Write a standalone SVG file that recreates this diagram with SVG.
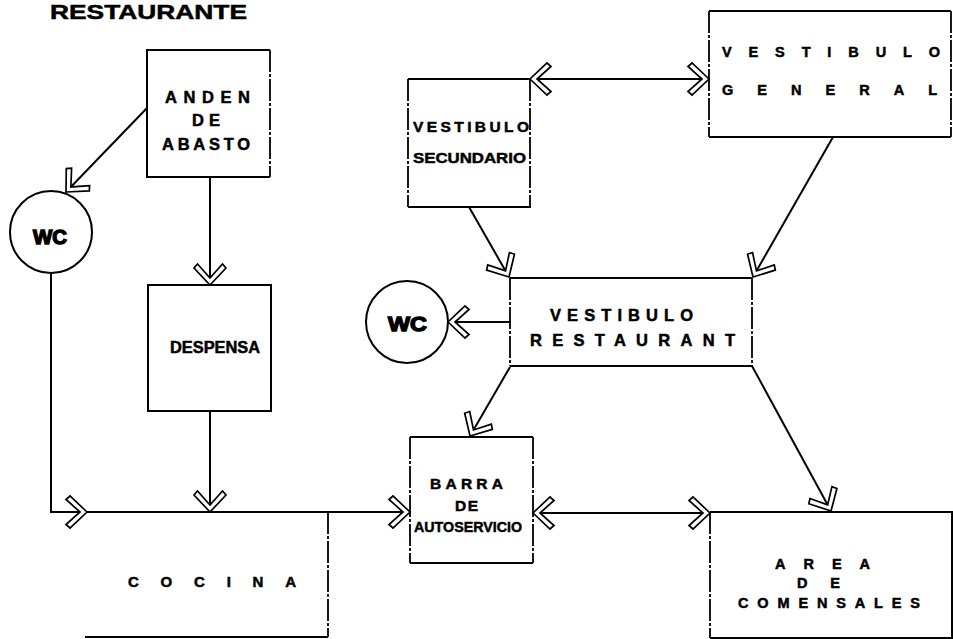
<svg xmlns="http://www.w3.org/2000/svg" width="953" height="639" viewBox="0 0 953 639">
  <style>
    .box { fill: none; stroke: #000; stroke-width: 2; }
    .side { fill: none; stroke: #000; stroke-width: 1.8; stroke-dasharray: 22 2 3 2; }
    .wire { fill: none; stroke: #000; stroke-width: 2; }
    .lbl { font-family: "Liberation Sans", Arial, sans-serif; font-weight: bold; fill: #000; stroke: #000; stroke-width: 0.5; }
    .wc { font-family: "Liberation Sans", Arial, sans-serif; font-weight: bold; fill: #000; stroke: #000; stroke-width: 1.4; }
  </style>
  <defs>
    <!-- open double-outline chevron arrowhead -->
    <marker id="chev" markerUnits="userSpaceOnUse" viewBox="-24 -20 28 40" refX="0" refY="0" markerWidth="28" markerHeight="40" orient="auto-start-reverse" overflow="visible">
      <polygon points="0,0 -17,-16 -21,-12.5 -7,0 -21,12.5 -17,16" fill="#fff" stroke="#000" stroke-width="1.7" stroke-linejoin="miter"/>
    </marker>
  </defs>
  <rect width="953" height="639" fill="#fff"/>

  <text class="lbl" x="50" y="19" font-size="20" stroke-width="1" textLength="197" lengthAdjust="spacingAndGlyphs">RESTAURANTE</text>

  <!-- connectors -->
  <g id="connectors">
    <path class="wire" d="M147,108 L66,192" marker-end="url(#chev)"/>
    <path class="wire" d="M51,273 V512 H87" marker-end="url(#chev)"/>
    <path class="wire" d="M87,512 H410" marker-end="url(#chev)"/>
    <path class="wire" d="M210,177 V285" marker-end="url(#chev)"/>
    <path class="wire" d="M210,411 V512" marker-end="url(#chev)"/>
    <path class="wire" d="M530,79 H709" marker-start="url(#chev)" marker-end="url(#chev)"/>
    <path class="wire" d="M469,207 L509,277" marker-end="url(#chev)"/>
    <path class="wire" d="M833,137 L753,277" marker-end="url(#chev)"/>
    <path class="wire" d="M510,322 H448" marker-end="url(#chev)"/>
    <path class="wire" d="M510,367 L470,436" marker-end="url(#chev)"/>
    <path class="wire" d="M752,366 L831,511" marker-end="url(#chev)"/>
    <path class="wire" d="M533,513 H710" marker-start="url(#chev)" marker-end="url(#chev)"/>
  </g>

  <g id="anden">
    <path class="box" d="M270,50 H147 V177 H270"/>
    <path class="side" d="M270,50 V177"/>
    <text class="lbl" font-size="16.5" x="165" y="103" textLength="85" lengthAdjust="spacing">ANDEN</text>
    <text class="lbl" font-size="16.5" x="192" y="126" textLength="28" lengthAdjust="spacing">DE</text>
    <text class="lbl" font-size="16.5" x="162" y="150" textLength="88" lengthAdjust="spacing">ABASTO</text>
  </g>

  <g id="wc1">
    <circle cx="51" cy="232" r="41" fill="#fff" stroke="#000" stroke-width="2"/>
    <text class="wc" font-size="20" x="33" y="244" textLength="34" lengthAdjust="spacingAndGlyphs">WC</text>
  </g>

  <g id="despensa">
    <rect class="box" x="148" y="285" width="123" height="126"/>
    <text class="lbl" font-size="16" x="170" y="352.5" textLength="90" lengthAdjust="spacingAndGlyphs">DESPENSA</text>
  </g>

  <g id="cocina">
    <path class="box" d="M85,637 H328"/>
    <path class="side" d="M328,512 V637"/>
    <text class="lbl" font-size="15" x="128" y="587" textLength="168" lengthAdjust="spacing">COCINA</text>
  </g>

  <g id="vestibulo-secundario">
    <path class="box" d="M408,79 H530 M408,207 H531"/>
    <path class="side" d="M408,79 V207 M530,79 V207"/>
    <text class="lbl" font-size="15.5" x="413" y="132" textLength="116" lengthAdjust="spacing">VESTIBULO</text>
    <text class="lbl" font-size="15.5" x="413" y="163" textLength="113" lengthAdjust="spacingAndGlyphs">SECUNDARIO</text>
  </g>

  <g id="vestibulo-general">
    <path class="box" d="M709,11 H951 M709,137 H951"/>
    <path class="side" d="M709,11 V137 M951,11 V137"/>
    <text class="lbl" font-size="14.5" x="722" y="57" textLength="218" lengthAdjust="spacing">VESTIBULO</text>
    <text class="lbl" font-size="14.5" x="722" y="95" textLength="215" lengthAdjust="spacing">GENERAL</text>
  </g>

  <g id="vestibulo-restaurant">
    <path class="box" d="M510,278 H752 M510,366 H752"/>
    <path class="side" d="M510,278 V366 M752,278 V366"/>
    <text class="lbl" font-size="16.5" x="550" y="321" textLength="143" lengthAdjust="spacing">VESTIBULO</text>
    <text class="lbl" font-size="16.5" x="530" y="346" textLength="205" lengthAdjust="spacing">RESTAURANT</text>
  </g>

  <g id="wc2">
    <circle cx="407" cy="322" r="41" fill="#fff" stroke="#000" stroke-width="2"/>
    <text class="wc" font-size="21" x="388" y="331" textLength="39" lengthAdjust="spacingAndGlyphs">WC</text>
  </g>

  <g id="barra">
    <path class="box" d="M410,437 H533 M410,563 H533"/>
    <path class="side" d="M410,437 V563 M533,437 V563"/>
    <text class="lbl" font-size="15.5" x="430" y="489" textLength="73" lengthAdjust="spacing">BARRA</text>
    <text class="lbl" font-size="15.5" x="455" y="511" textLength="23" lengthAdjust="spacing">DE</text>
    <text class="lbl" font-size="15.5" x="414" y="532" textLength="108" lengthAdjust="spacingAndGlyphs">AUTOSERVICIO</text>
  </g>

  <g id="area-comensales">
    <path class="box" d="M710,512 H952 V638 H710"/>
    <path class="side" d="M710,512 V638"/>
    <text class="lbl" font-size="14.5" x="775" y="569" textLength="95" lengthAdjust="spacing">AREA</text>
    <text class="lbl" font-size="14.5" x="797" y="588" textLength="43" lengthAdjust="spacing">DE</text>
    <text class="lbl" font-size="14.5" x="738" y="608" textLength="182" lengthAdjust="spacing">COMENSALES</text>
  </g>
</svg>
